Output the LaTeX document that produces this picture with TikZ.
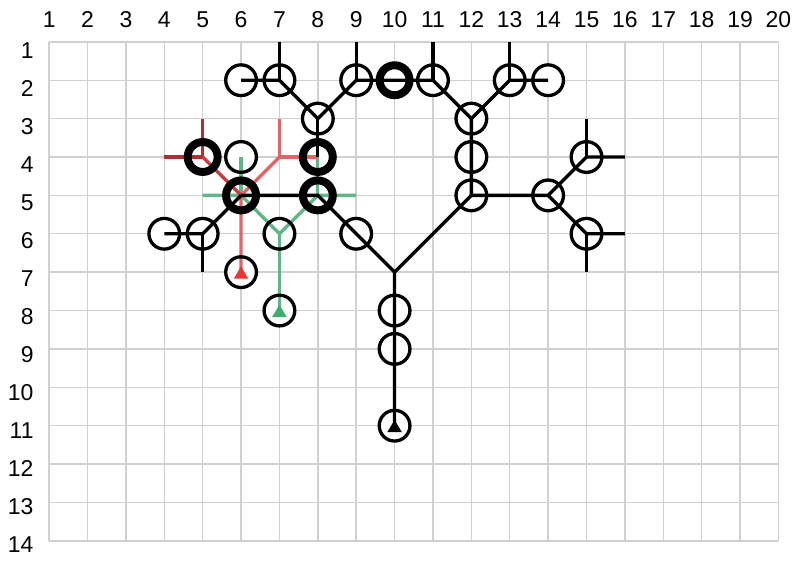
\documentclass[tikz,border=0pt]{standalone}
\usepackage{fontspec}
\setmainfont{Liberation Sans}
\definecolor{gridgray}{HTML}{D0D0D0}
\definecolor{salmonred}{HTML}{E06666}
\definecolor{deepred}{HTML}{A83232}
\definecolor{midred}{HTML}{C44040}
\definecolor{greenline}{HTML}{5FB787}
\definecolor{trired}{HTML}{E53935}
\definecolor{trigreen}{HTML}{3DAE6B}
\newcommand\mytri[2]{\fill[#2] ([shift={(0,-0.15)}]#1.center) -- ([shift={(0.19,0.17)}]#1.center) -- ([shift={(-0.19,0.17)}]#1.center) -- cycle;}
\begin{document}
\begin{tikzpicture}[x=1cm,y=-1cm,
  gridline/.style={draw=gridgray,line width=1.05pt},
  lab/.style={inner sep=0pt,font=\fontsize{17}{20}\selectfont},
  nd/.style={circle,minimum size=0.8cm,inner sep=0pt,fill=white},
  wire/.style={line width=2.45pt,black},
  gwire/.style={line width=2.45pt,greenline},
  rwire/.style={line width=2.45pt,salmonred},
  dwire/.style={line width=2.45pt,deepred},
  mwire/.style={line width=2.45pt,midred},
  ring/.style={draw=black,line width=2.45pt},
  thickring/.style={draw=black,line width=5.9pt}]
\useasboundingbox (-0.28,-0.09) rectangle (20.51,14.655);
\fill[white] (-0.28,-0.09) rectangle (20.51,14.655);
% grid
\draw[gridline] (1,1) grid (20,14);
% labels
\foreach \c in {1,...,20} \node[lab] (col\c) at (\c,0.43) {\c};
\foreach \r in {1,...,14} \node[lab,anchor=east] (row\r) at (0.6,{1.234+(\r-1)*0.99}) {\r};
% circle nodes (white discs)
\node[nd] (n6-2) at (6,2) {};
\node[nd] (n7-2) at (7,2) {};
\node[nd] (n9-2) at (9,2) {};
\node[nd] (n10-2) at (10,2) {};
\node[nd] (n11-2) at (11,2) {};
\node[nd] (n13-2) at (13,2) {};
\node[nd] (n14-2) at (14,2) {};
\node[nd] (n8-3) at (8,3) {};
\node[nd] (n12-3) at (12,3) {};
\node[nd] (n5-4) at (5,4) {};
\node[nd] (n6-4) at (6,4) {};
\node[nd] (n8-4) at (8,4) {};
\node[nd] (n12-4) at (12,4) {};
\node[nd] (n15-4) at (15,4) {};
\node[nd] (n6-5) at (6,5) {};
\node[nd] (n8-5) at (8,5) {};
\node[nd] (n12-5) at (12,5) {};
\node[nd] (n14-5) at (14,5) {};
\node[nd] (n4-6) at (4,6) {};
\node[nd] (n5-6) at (5,6) {};
\node[nd] (n7-6) at (7,6) {};
\node[nd] (n9-6) at (9,6) {};
\node[nd] (n15-6) at (15,6) {};
\node[nd] (n6-7) at (6,7) {};
\node[nd] (n7-8) at (7,8) {};
\node[nd] (n10-8) at (10,8) {};
\node[nd] (n10-9) at (10,9) {};
\node[nd] (n10-11) at (10,11) {};
% free ends and junctions
\coordinate (p7-1) at (7,1);
\coordinate (p9-1) at (9,1);
\coordinate (p11-1) at (11,1);
\coordinate (p13-1) at (13,1);
\coordinate (p15-3) at (15,3);
\coordinate (p16-4) at (16,4);
\coordinate (p16-6) at (16,6);
\coordinate (p15-7) at (15,7);
\coordinate (p10-7) at (10,7);
\coordinate (p5-7) at (5,7);
\coordinate (p5-3) at (5,3);
\coordinate (p4-4) at (4,4);
\coordinate (p7-3) at (7,3);
\coordinate (p7-4) at (7,4);
\coordinate (p5-5) at (5,5);
\coordinate (p9-5) at (9,5);
% green paths
\draw[gwire] (n6-4.center) -- (n6-5.center);
\draw[gwire] (p5-5) -- (n6-5.center) -- (n7-6.center) -- (n8-5.center) -- (p9-5);
\draw[gwire] (n7-6.center) -- (n7-8.center);
\draw[gwire] (n8-4.center) -- (n8-5.center);
% red paths
\draw[rwire] (p7-3) -- (p7-4) -- (n8-4.center);
\draw[rwire] (p7-4) -- (n6-5.center) -- (n6-7.center);
\draw[dwire] (p5-3) -- (n5-4.center);
\draw[dwire] (p4-4) -- (n5-4.center);
\draw[mwire] (n5-4.center) -- (n6-5.center);
% black paths
\draw[wire] (n6-2.center) -- (n7-2.center) -- (n8-3.center) -- (n9-2.center) -- (n11-2.center) -- (n12-3.center) -- (n13-2.center) -- (n14-2.center);
\draw[wire] (p7-1) -- (n7-2.center);
\draw[wire] (p9-1) -- (n9-2.center);
\draw[wire] (p11-1) -- (n11-2.center);
\draw[wire] (p13-1) -- (n13-2.center);
\draw[wire] (n8-3.center) -- (n8-4.center);
\draw[wire] (n12-3.center) -- (n12-5.center) -- (n14-5.center) -- (n15-4.center) -- (p16-4);
\draw[wire] (p15-3) -- (n15-4.center);
\draw[wire] (n14-5.center) -- (n15-6.center) -- (p16-6);
\draw[wire] (n15-6.center) -- (p15-7);
\draw[wire] (n12-5.center) -- (p10-7) -- (n10-11.center);
\draw[wire] (n6-5.center) -- (n8-5.center) -- (n9-6.center) -- (p10-7);
\draw[wire] (n6-5.center) -- (n5-6.center) -- (n4-6.center);
\draw[wire] (n5-6.center) -- (p5-7);
% rings
\foreach \n in {n6-2,n7-2,n9-2,n11-2,n13-2,n14-2,n8-3,n12-3,n6-4,n12-4,n15-4,n12-5,n14-5,n4-6,n5-6,n7-6,n9-6,n15-6,n6-7,n7-8,n10-8,n10-9,n10-11}
  \draw[ring] (\n.center) circle[radius=0.4];
\foreach \n in {n10-2,n5-4,n8-4,n6-5,n8-5}
  \draw[thickring] (\n.center) circle[radius=0.39];
% triangles
\mytri{n10-11}{black}
\mytri{n6-7}{trired}
\mytri{n7-8}{trigreen}
\end{tikzpicture}
\end{document}
